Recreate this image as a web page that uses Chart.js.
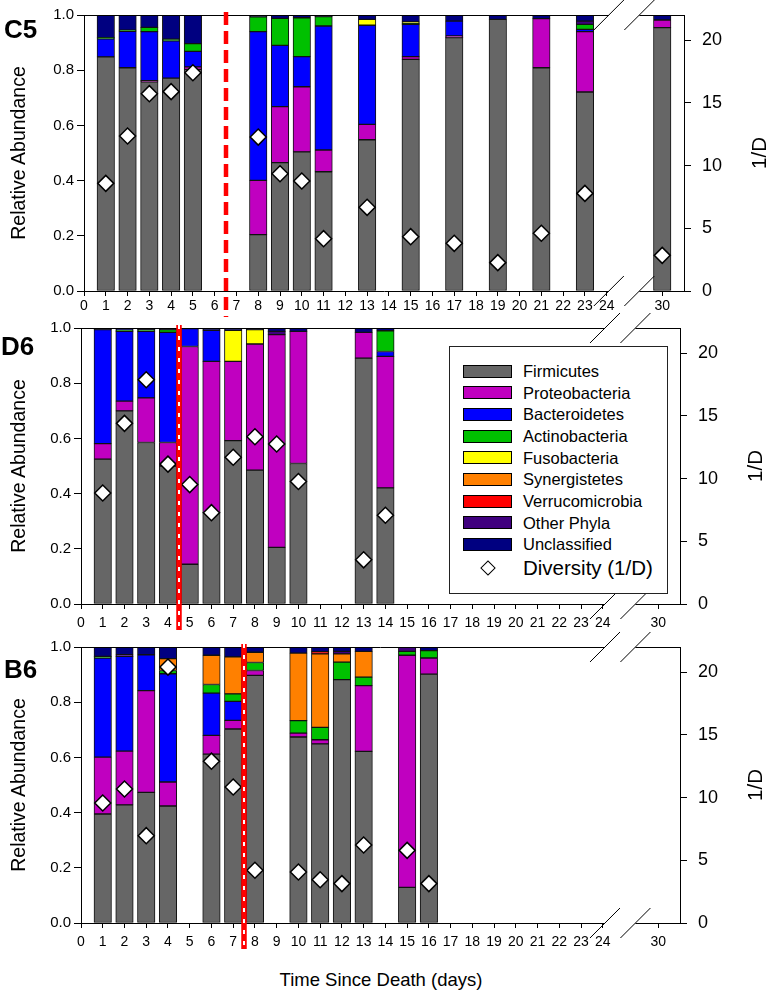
<!DOCTYPE html>
<html><head><meta charset="utf-8">
<script src="https://cdn.jsdelivr.net/npm/chart.js@4.4.1/dist/chart.umd.min.js"></script>
<style>
html,body{margin:0;padding:0;background:#fff;}
body{width:767px;height:994px;overflow:hidden;position:relative;font-family:"Liberation Sans",Arial,sans-serif;color:#000}
canvas{position:absolute}
.t{position:absolute;white-space:nowrap;line-height:1}
.rot{transform:translate(-50%,-50%) rotate(-90deg)}
.ctr{transform:translate(-50%,-50%)}
.pl{font-weight:bold;font-size:26px;transform:translateY(-50%)}
#legend{position:absolute;left:449px;top:346px;width:217px;height:246px;border:1px solid #222;background:#fff}
.sw{position:absolute;width:47px;height:11px;border:1px solid #000}
.lt{position:absolute;font-size:16.5px;line-height:1;transform:translateY(-50%);white-space:nowrap}
.dm{position:absolute;width:9px;height:9px;border:1.5px solid #000;background:#fff;transform:translate(-50%,-50%) rotate(45deg)}
</style></head><body>
<canvas id="c5" width="764" height="321" style="left:3px;top:0px"></canvas>
<canvas id="d6" width="767" height="321" style="left:0px;top:313px"></canvas>
<canvas id="b6" width="767" height="321" style="left:0px;top:632px"></canvas>

<div class="t pl" style="left:4px;top:29px">C5</div>
<div class="t pl" style="left:1px;top:346px">D6</div>
<div class="t pl" style="left:4px;top:669px">B6</div>

<div class="t rot" style="left:19px;top:153px;font-size:19.5px">Relative Abundance</div>
<div class="t rot" style="left:19px;top:466px;font-size:19.5px">Relative Abundance</div>
<div class="t rot" style="left:19px;top:785px;font-size:19.5px">Relative Abundance</div>
<div class="t rot" style="left:759px;top:153px;font-size:20.5px">1/D</div>
<div class="t rot" style="left:755px;top:466px;font-size:20.5px">1/D</div>
<div class="t rot" style="left:755px;top:785px;font-size:20.5px">1/D</div>
<div class="t ctr" style="left:381px;top:980px;font-size:18.5px">Time Since Death (days)</div>

<div id="legend"></div>

<script>
// ---- categories / ticks ----
const PHYLA = ['Firmicutes','Proteobacteria','Bacteroidetes','Actinobacteria','Fusobacteria','Synergistetes','Verrucomicrobia','Other Phyla','Unclassified'];
const COLORS = ['#666666','#c000c0','#0000ff','#00c000','#ffff00','#ff8000','#ff0000','#40007f','#000080'];
const DIVERSITY_LABEL = 'Diversity (1/D)';
const X_TICK_DAYS = [0,1,2,3,4,5,6,7,8,9,10,11,12,13,14,15,16,17,18,19,20,21,22,23,24,30];
const Y_TICKS = [0,0.2,0.4,0.6,0.8,1.0];
const D_TICKS = [0,5,10,15,20];
const RED_LINE_DAYS = [6.5, 4.5, 7.5];   // C5, D6, B6

// ---- C5 ----
const c5Days            = [1,2,3,4,5,8,9,10,11,13,15,17,19,21,23,30];
const c5Firmicutes      = [0.848,0.809,0.758,0.771,0.803,0.204,0.465,0.504,0.432,0.548,0.839,0.918,0.984,0.809,0.721,0.954];
const c5Proteobacteria  = [0,0,0.004,0,0.009,0.197,0.203,0.236,0.079,0.056,0.010,0.006,0,0.178,0.219,0.028];
const c5Bacteroidetes   = [0.066,0.132,0.178,0.135,0.056,0.539,0.222,0.109,0.449,0.359,0.117,0.054,0,0,0.008,0];
const c5Actinobacteria  = [0.004,0.004,0.015,0.006,0.028,0.053,0.098,0.141,0.034,0,0.003,0,0,0,0.018,0];
const c5Fusobacteria    = [0,0,0,0,0,0,0,0,0,0.021,0.006,0,0,0,0,0];
const c5Synergistetes   = [0,0,0,0,0,0,0,0,0,0,0,0,0,0,0,0];
const c5Verrucomicrobia = [0,0,0,0,0,0,0,0,0,0,0,0,0,0,0,0];
const c5OtherPhyla      = [0,0,0,0,0,0,0,0,0,0,0,0,0,0,0.012,0];
const c5Unclassified    = [0.082,0.055,0.045,0.088,0.104,0.007,0.012,0.010,0.006,0.016,0.025,0.022,0.016,0.013,0.022,0.018];
const c5Diversity       = [8.58,12.35,15.73,15.89,17.4,12.27,9.35,8.77,4.17,6.67,4.33,3.8,2.26,4.6,7.78,2.84];

// ---- D6 ----
const d6Days            = [1,2,3,4,5,6,7,8,9,10,13,14];
const d6Firmicutes      = [0.525,0.70,0.585,0.50,0.144,0.331,0.592,0.485,0.205,0.509,0.891,0.421];
const d6Proteobacteria  = [0.056,0.035,0.162,0.085,0.789,0.548,0.287,0.457,0.771,0.479,0.093,0.476];
const d6Bacteroidetes   = [0.413,0.253,0.241,0.399,0.065,0.113,0,0,0,0,0,0.018];
const d6Actinobacteria  = [0,0.004,0.006,0.010,0,0,0,0,0,0,0,0.075];
const d6Fusobacteria    = [0,0,0,0,0,0,0.113,0.052,0,0,0,0];
const d6Synergistetes   = [0,0,0,0,0,0,0,0,0,0,0,0];
const d6Verrucomicrobia = [0,0,0,0,0,0,0,0,0,0,0,0];
const d6OtherPhyla      = [0,0,0,0,0,0,0,0,0.012,0,0,0];
const d6Unclassified    = [0.006,0.008,0.006,0.006,0.002,0.008,0.008,0.006,0.012,0.012,0.016,0.010];
const d6Diversity       = [8.85,14.4,17.87,11.15,9.52,7.28,11.7,13.33,12.75,9.76,3.52,7.07];

// ---- B6 ----
const b6Days            = [1,2,3,4,6,7,8,10,11,12,13,15,16];
const b6Firmicutes      = [0.395,0.428,0.473,0.424,0.612,0.703,0.897,0.674,0.649,0.882,0.622,0.129,0.902];
const b6Proteobacteria  = [0.206,0.195,0.369,0.087,0.068,0.031,0.018,0.014,0.015,0,0.238,0.841,0.058];
const b6Bacteroidetes   = [0.359,0.343,0.130,0.392,0.153,0.069,0,0,0,0,0,0,0];
const b6Actinobacteria  = [0.006,0,0,0.012,0.031,0.027,0.029,0.045,0.045,0.063,0.031,0.014,0.027];
const b6Fusobacteria    = [0,0,0,0,0,0,0,0,0,0,0,0,0];
const b6Synergistetes   = [0,0,0,0.043,0.106,0.134,0.037,0.245,0.266,0.030,0.093,0,0];
const b6Verrucomicrobia = [0,0,0,0,0,0,0,0,0.008,0,0,0,0];
const b6OtherPhyla      = [0,0.006,0,0,0,0,0,0,0,0.009,0,0.016,0];
const b6Unclassified    = [0.034,0.028,0.028,0.042,0.030,0.036,0.019,0.022,0.017,0.016,0.016,0,0.013];
const b6Diversity       = [9.57,10.68,6.96,20.4,12.9,10.84,4.2,4.07,3.45,3.14,6.22,5.79,3.14];

// ---- broken x axis (24 | 30) ----
const BREAK_LAST = 24, BREAK_NEXT = 30, BREAK_NEXT_POS = 26.55, X_MAX = 27.55;
const BREAK_MARKS = [24.1, 25.5];
const pos = d => d <= BREAK_LAST ? d : BREAK_NEXT_POS + (d - BREAK_NEXT);

Chart.defaults.font.family = '"Liberation Sans", Arial, sans-serif';
Chart.defaults.color = '#000';

const overlay = {
  id: 'overlay',
  afterDraw(chart, args, opts) {
    const {ctx, chartArea: a, scales: {x}} = chart;
    ctx.save();
    ctx.strokeStyle = '#000'; ctx.lineWidth = 1;
    ctx.beginPath(); ctx.moveTo(a.left, a.top + 0.5); ctx.lineTo(a.right, a.top + 0.5); ctx.stroke();
    const b1 = x.getPixelForValue(BREAK_MARKS[0]), b2 = x.getPixelForValue(BREAK_MARKS[1]);
    for (const y of [a.top, a.bottom]) {
      ctx.fillStyle = '#fff'; ctx.fillRect(b1, y - 2, b2 - b1, 4);
      ctx.beginPath();
      for (const b of [b1, b2]) { ctx.moveTo(b - 15, y + 15); ctx.lineTo(b + 15, y - 15); }
      ctx.stroke();
    }
    const rx = Math.round(x.getPixelForValue(opts.day));
    ctx.strokeStyle = '#ff0000'; ctx.lineWidth = opts.dashed ? 4.5 : 5.5;
    if (opts.dashed) ctx.setLineDash([13, 6]);
    ctx.beginPath(); ctx.moveTo(rx, a.top - 3); ctx.lineTo(rx, a.bottom + 26); ctx.stroke();
    if (!opts.dashed) {
      ctx.strokeStyle = '#fff'; ctx.lineWidth = 2; ctx.setLineDash([4, 7]);
      ctx.beginPath(); ctx.moveTo(rx, a.top - 3); ctx.lineTo(rx, a.bottom + 26); ctx.stroke();
    }
    ctx.restore();
  }
};

function noPad(s) { s.paddingTop = 0; s.paddingBottom = 0; }

function makeChart(id, days, series, diversity, redDay, dashed, yW, y1W, tickPad) {
  const datasets = series.map((vals, k) => ({
    type: 'bar',
    label: PHYLA[k],
    data: days.map((d, i) => ({x: pos(d), y: vals[i]})).filter(p => p.y > 0),
    backgroundColor: COLORS[k],
    borderColor: '#111',
    borderWidth: 1,
    borderSkipped: false,
    barThickness: 17.5,
    yAxisID: 'y',
    order: 1
  }));
  datasets.push({
    type: 'scatter',
    label: DIVERSITY_LABEL,
    data: days.map((d, i) => ({x: pos(d), y: diversity[i]})),
    yAxisID: 'y1',
    pointStyle: 'rectRot',
    pointRadius: 8,
    backgroundColor: '#fff',
    borderColor: '#000',
    borderWidth: 1.5,
    order: 0
  });
  return new Chart(document.getElementById(id), {
    type: 'bar',
    data: {datasets},
    plugins: [overlay],
    options: {
      responsive: false, animation: false, devicePixelRatio: 1,
      layout: {padding: {top: 15, left: 0, right: 0, bottom: 0}},
      plugins: {legend: {display: false}, tooltip: {enabled: false}, overlay: {day: redDay, dashed}},
      scales: {
        x: {
          type: 'linear', stacked: true, offset: false, min: 0, max: X_MAX,
          afterFit(s) { s.height = 30; s.paddingLeft = 0; s.paddingRight = 0; },
          afterBuildTicks(s) { s.ticks = X_TICK_DAYS.map(d => ({value: pos(d)})); },
          ticks: {autoSkip: false, maxRotation: 0, minRotation: 0, padding: tickPad, font: {size: 14}, color: '#000',
                  callback: (v, i) => String(X_TICK_DAYS[i])},
          grid: {offset: false, drawOnChartArea: false, tickLength: 5, color: '#000'},
          border: {display: true, color: '#000', width: 1}
        },
        y: {
          position: 'left', stacked: true, min: 0, max: 1,
          afterFit(s) { s.width = yW; noPad(s); },
          afterBuildTicks(s) { s.ticks = Y_TICKS.map(v => ({value: v})); },
          ticks: {padding: 3, font: {size: 15}, color: '#000', callback: v => Number(v).toFixed(1)},
          grid: {drawOnChartArea: false, tickLength: 7, color: '#000'},
          border: {display: true, color: '#000', width: 1}
        },
        y1: {
          position: 'right', min: 0, max: 22,
          afterFit(s) { s.width = y1W; noPad(s); },
          afterBuildTicks(s) { s.ticks = D_TICKS.map(v => ({value: v})); },
          ticks: {padding: 11, font: {size: 18}, color: '#000', callback: v => String(v)},
          grid: {drawOnChartArea: false, tickLength: 7, color: '#000'},
          border: {display: true, color: '#000', width: 1}
        }
      }
    }
  });
}

makeChart('c5', c5Days,
  [c5Firmicutes, c5Proteobacteria, c5Bacteroidetes, c5Actinobacteria, c5Fusobacteria, c5Synergistetes, c5Verrucomicrobia, c5OtherPhyla, c5Unclassified],
  c5Diversity, RED_LINE_DAYS[0], true, 81, 83, 2);
makeChart('d6', d6Days,
  [d6Firmicutes, d6Proteobacteria, d6Bacteroidetes, d6Actinobacteria, d6Fusobacteria, d6Synergistetes, d6Verrucomicrobia, d6OtherPhyla, d6Unclassified],
  d6Diversity, RED_LINE_DAYS[1], false, 81, 87, 6);
makeChart('b6', b6Days,
  [b6Firmicutes, b6Proteobacteria, b6Bacteroidetes, b6Actinobacteria, b6Fusobacteria, b6Synergistetes, b6Verrucomicrobia, b6OtherPhyla, b6Unclassified],
  b6Diversity, RED_LINE_DAYS[2], false, 81, 87, 6);

// ---- HTML legend (inside D6) ----
const lg = document.getElementById('legend');
PHYLA.forEach((name, k) => {
  const cy = 24 + k * 21.67;
  const sw = document.createElement('div');
  sw.className = 'sw'; sw.style.left = '13px'; sw.style.top = (cy - 6.5) + 'px'; sw.style.background = COLORS[k];
  lg.appendChild(sw);
  const tx = document.createElement('div');
  tx.className = 'lt'; tx.style.left = '73px'; tx.style.top = cy + 'px'; tx.textContent = name;
  lg.appendChild(tx);
});
const dm = document.createElement('div');
dm.className = 'dm'; dm.style.left = '38px'; dm.style.top = '221px';
lg.appendChild(dm);
const dt = document.createElement('div');
dt.className = 'lt'; dt.style.left = '73px'; dt.style.top = '221px'; dt.style.fontSize = '20.5px'; dt.textContent = DIVERSITY_LABEL;
lg.appendChild(dt);
</script>
</body></html>
